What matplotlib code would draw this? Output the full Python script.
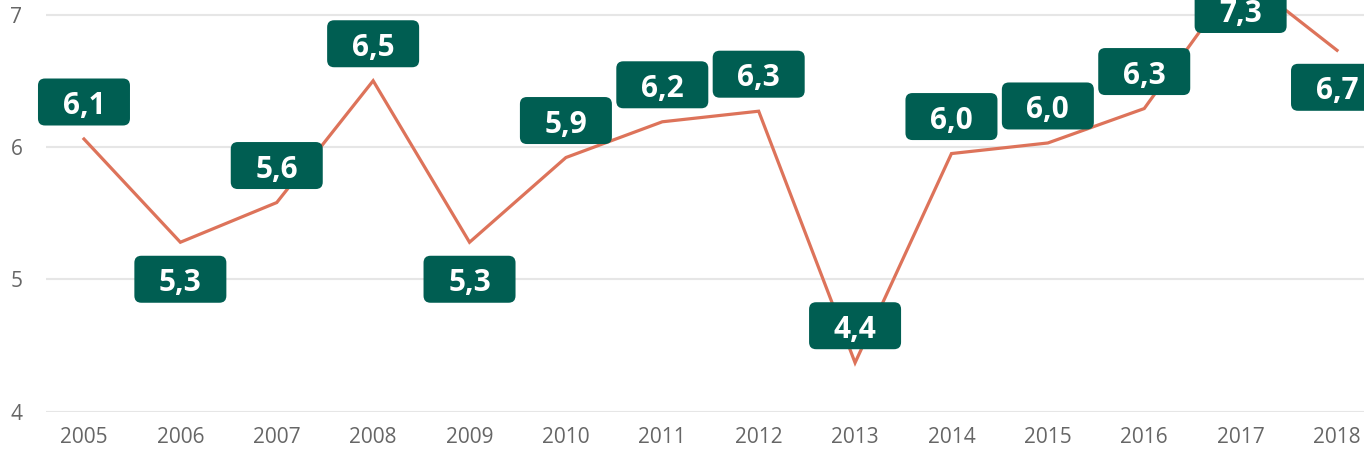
import matplotlib
matplotlib.use("Agg")
import matplotlib.pyplot as plt
from matplotlib.patches import FancyBboxPatch
from matplotlib.transforms import IdentityTransform

years = ["2005", "2006", "2007", "2008", "2009", "2010", "2011",
         "2012", "2013", "2014", "2015", "2016", "2017", "2018"]
values = [6.06, 5.28, 5.58, 6.50, 5.28, 5.92, 6.19,
          6.27, 4.37, 5.95, 6.03, 6.29, 7.30, 6.73]
# where the data label sits: 1 above the point, -1 below
label_side = [1, -1, 1, 1, -1, 1, 1, 1, 1, 1, 1, 1, 1, -1]

W, H, DPI = 1364, 455, 100
plt.rcParams['font.family'] = ['Open Sans', 'DejaVu Sans']

fig = plt.figure(figsize=(W / DPI, H / DPI), dpi=DPI)
ax = fig.add_axes([46 / W, (H - 411.7) / H, 1 - 46 / W, 411.7 / H])

x = list(range(len(years)))
ax.plot(x, values, color="#DD735A", lw=2.3, solid_joinstyle="miter", zorder=3)

ax.set_xlim(-0.394, 13.28)
ax.set_ylim(4, 7.11)
ax.set_yticks([4, 5, 6, 7])
ax.set_xticks(x)
ax.set_xticklabels(years)
ax.grid(axis="y", color="#E6E6E6", lw=1.5)
ax.set_axisbelow(True)
for s in ax.spines.values():
    s.set_visible(False)
ax.tick_params(length=0, labelsize=15, labelcolor="#666666")
ax.tick_params(axis="x", pad=11)
ax.tick_params(axis="y", pad=17)

# data labels (boxes of fixed pixel size)
bw, bh = 92, 47
for xi, v, side in zip(x, values, label_side):
    px, py = ax.transData.transform((xi, v))
    cy = py + side * 37
    cy = min(cy, H - 9.5)
    box = FancyBboxPatch((px - bw / 2, cy - bh / 2), bw, bh,
                         boxstyle="round,pad=0,rounding_size=7",
                         fc="#005E52", ec="none", transform=IdentityTransform(),
                         zorder=5, clip_on=False)
    fig.patches.append(box)
    fig.text(px, cy - 4, f"{v:.1f}".replace(".", ","), transform=IdentityTransform(),
             ha="center", va="center", color="white", fontsize=21.5,
             fontweight="bold", zorder=6)

fig.savefig("out.png", dpi=DPI)
